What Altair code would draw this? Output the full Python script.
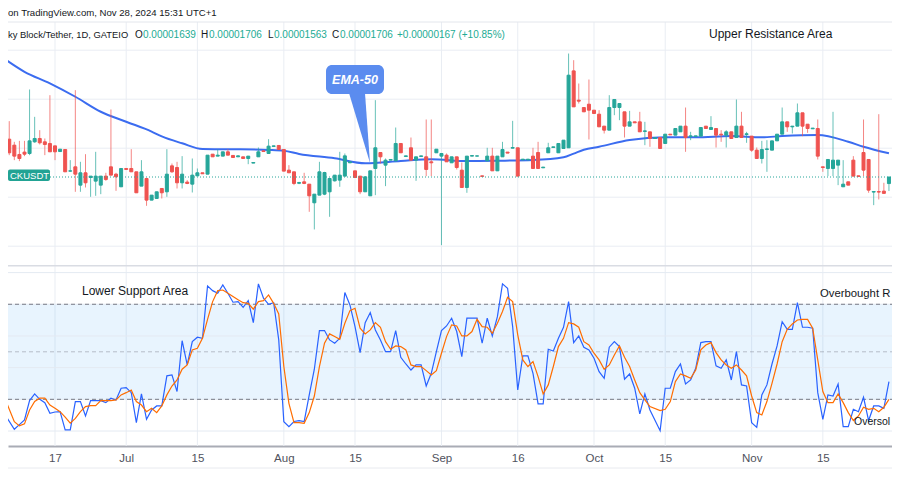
import altair as alt
import pandas as pd
from datetime import date, timedelta

# ---------------- data (prices in units of 1e-8 USDT) ----------------
START = date(2024, 6, 7)

opens = [2670, 2092, 2031, 1936, 1960, 1946, 2065, 2099, 2065, 2048,
         2024, 1966, 1987, 1766, 1810, 1623, 1749, 1701, 1664, 1623,
         1715, 1810, 1735, 1606, 1793, 1793, 1759, 1613, 1691, 1470,
         1487, 1589, 1555, 1820, 1803, 1647, 1654, 1633, 1718, 1749,
         1735, 1939, 1919, 1919, 1963, 1926, 1912, 1912, 1895, 1848,
         1912, 1973, 1946, 2018, 2028, 1987, 1776, 1759, 1642, 1657,
         1633, 1443, 1521, 1531, 1555, 1667, 1674, 1715, 1851, 1769,
         1715, 1555, 1514, 1793, 1956, 1827, 1878, 1871, 2048, 1915,
         2004, 1878, 1915, 1912, 1861, 1953, 1919, 1929, 1851, 1912,
         1776, 1599, 1919, 1919, 1718, 1871, 1919, 1769, 1912, 1960,
         2000, 2004, 1881, 1881, 1919, 1956, 1800, 1953, 2007, 1953,
         1997, 2004, 2789, 2490, 2415, 2449, 2388, 2347, 2225, 2184,
         2415, 2415, 2371, 2225, 2269, 2269, 2171, 2167, 2099, 2109,
         2048, 2143, 2133, 2167, 2225, 2120, 2120, 2123, 2225, 2191,
         2201, 2143, 2133, 2167, 2109, 2225, 2140, 2123, 1980, 1895,
         1987, 1980, 2075, 2143, 2269, 2218, 2225, 2361, 2245, 2198,
         2201, 1810, 1793, 1793, 1827, 1606, 1657, 1878, 1718, 1956,
         1885, 1552, 1558, 1562, 1639]
highs = [2711, 2276, 2065, 2075, 2075, 2599, 2320, 2184, 2099, 2541,
         2024, 1990, 1987, 1878, 2592, 1861, 1939, 1715, 1963, 1715,
         1749, 2395, 1749, 1793, 1793, 1990, 1759, 1878, 1691, 1521,
         1555, 1589, 1990, 1844, 1861, 1919, 1674, 1895, 1793, 1749,
         1929, 1939, 1990, 1963, 1990, 1926, 1926, 1912, 1919, 1854,
         2007, 1973, 2092, 2024, 2028, 1987, 1827, 1759, 1657, 1749,
         1633, 1531, 1861, 1759, 1691, 1725, 1963, 1946, 1861, 1769,
         1715, 1708, 1769, 2490, 1956, 1895, 1885, 2211, 2048, 1922,
         2109, 1912, 1922, 2293, 2293, 1990, 1946, 1946, 1912, 1912,
         1854, 1919, 1925, 1922, 1718, 2004, 2004, 1919, 2065, 1960,
         2279, 2004, 1888, 1888, 2004, 2065, 1807, 2055, 2014, 2048,
         2082, 2966, 2898, 2660, 2415, 2701, 2388, 2388, 2225, 2541,
         2497, 2456, 2371, 2381, 2269, 2371, 2269, 2167, 2112, 2109,
         2143, 2143, 2201, 2225, 2415, 2167, 2126, 2211, 2225, 2327,
         2201, 2184, 2184, 2167, 2497, 2371, 2167, 2123, 2007, 2075,
         2082, 2075, 2143, 2415, 2269, 2225, 2456, 2361, 2245, 2205,
         2293, 1810, 1885, 2371, 1878, 1878, 1657, 1919, 1718, 2293,
         1885, 1558, 2347, 1647, 1706]
lows = [1963, 1929, 1878, 1868, 1919, 1929, 2055, 2038, 1929, 1963,
        1878, 1966, 1759, 1759, 1555, 1555, 1599, 1504, 1514, 1531,
        1667, 1725, 1565, 1606, 1783, 1759, 1545, 1613, 1412, 1470,
        1487, 1487, 1504, 1749, 1589, 1589, 1633, 1548, 1718, 1739,
        1735, 1912, 1919, 1919, 1929, 1905, 1912, 1895, 1837, 1848,
        1912, 1966, 1946, 2018, 1987, 1766, 1749, 1623, 1633, 1633,
        1351, 1171, 1521, 1521, 1300, 1660, 1606, 1715, 1851, 1701,
        1531, 1555, 1514, 1521, 1844, 1613, 1878, 1871, 1953, 1915,
        1878, 1667, 1915, 1715, 1715, 1953, 1011, 1861, 1851, 1783,
        1599, 1545, 1919, 1919, 1712, 1871, 1769, 1769, 1912, 1950,
        2000, 1715, 1881, 1881, 1793, 1793, 1800, 1953, 2007, 1953,
        1997, 2004, 2422, 2456, 2371, 2089, 2354, 2218, 2150, 2184,
        2337, 2286, 2109, 2225, 2259, 2167, 2031, 2014, 2095, 1997,
        2048, 2136, 2133, 2167, 1963, 2082, 2120, 2123, 2201, 2191,
        2007, 2065, 2007, 2099, 2109, 2109, 2055, 1963, 1895, 1844,
        1759, 1980, 2075, 2143, 2167, 2150, 2225, 2123, 2157, 2198,
        1885, 1759, 1715, 1715, 1623, 1606, 1623, 1715, 1712, 1715,
        1545, 1419, 1477, 1539, 1563]
closes = [2099, 1953, 1919, 1895, 1939, 2075, 2099, 2055, 2038, 1963,
          1963, 1990, 1759, 1769, 1735, 1749, 1647, 1715, 1715, 1715,
          1681, 1725, 1708, 1793, 1783, 1759, 1545, 1759, 1470, 1521,
          1555, 1545, 1735, 1759, 1647, 1735, 1640, 1725, 1749, 1739,
          1929, 1912, 1929, 1963, 1929, 1905, 1922, 1895, 1919, 1854,
          1963, 1966, 2021, 2024, 1987, 1766, 1749, 1640, 1650, 1640,
          1514, 1531, 1759, 1752, 1691, 1725, 1725, 1922, 1861, 1701,
          1555, 1708, 1769, 2004, 1912, 1878, 1885, 2048, 1953, 1922,
          1878, 1912, 1922, 1783, 1851, 1990, 1946, 1861, 1912, 1803,
          1599, 1919, 1925, 1922, 1712, 1919, 1769, 1919, 1987, 1950,
          2007, 1715, 1888, 1888, 1793, 1793, 1807, 2004, 2014, 2048,
          2082, 2745, 2422, 2480, 2371, 2388, 2354, 2218, 2184, 2415,
          2497, 2456, 2225, 2269, 2259, 2167, 2177, 2099, 2106, 1997,
          2143, 2136, 2201, 2225, 2109, 2126, 2126, 2211, 2201, 2211,
          2133, 2136, 2167, 2099, 2225, 2109, 2147, 1980, 1895, 1987,
          1993, 2075, 2143, 2269, 2218, 2225, 2361, 2225, 2201, 2205,
          1919, 1803, 1885, 1878, 1878, 1633, 1623, 1715, 1712, 1776,
          1572, 1558, 1552, 1539, 1706]

# EMA-50 line (day offset from START, value)
ema_days = [-1, 4, 9, 14, 19, 24, 29, 31, 35, 39, 45, 52, 55, 58, 65, 71,
            78, 84, 91, 97, 104, 110, 112, 114, 117, 123, 130, 136, 143,
            149, 153, 160, 166, 169, 174]
ema_values = [2951, 2780, 2662, 2525, 2372, 2270, 2170, 2120, 2050, 1992,
              1989, 1982, 1974, 1941, 1897, 1846, 1869, 1887, 1869, 1872,
              1879, 1907, 1945, 1985, 2015, 2084, 2111, 2111, 2124, 2111,
              2124, 2135, 2066, 2015, 1948]

# Stochastic %K (blue) and %D (orange)
stoch_days = [-1, 0] + list(range(2, 128)) + list(range(129, 175))
stoch_k = [24, 11.2, 1.1, 4, 7, 19.2, 23.4, 20, 17.9, 11.2,
           12, 12.2, 0.7, 0.7, 18.6, 18.6, 9.5, 19.2, 19.2, 19.2,
           17.9, 20.7, 19.6, 27, 27.4, 24.2, 5.3, 23.4, 7.4, 13.3,
           15.8, 15.8, 34.8, 35.4, 24.9, 57, 41.7, 56.4, 59.2, 58.5,
           91.6, 88.6, 87, 92.2, 87, 81.3, 81.7, 78.1, 82.3, 68.4,
           92.9, 83.8, 80, 81, 57.5, 5.9, 2.8, 6.0, 6.6, 5.9,
           22.8, 39, 63.4, 63.4, 57.5, 55.4, 58.5, 87.4, 79.6, 65.9,
           49.5, 68.4, 74.8, 63.8, 57.5, 50.1, 50.1, 63.4, 46.5, 42.3,
           38.5, 41.7, 41.7, 28.4, 36.4, 50.1, 63.4, 66.3, 71.2, 62.8,
           47, 71.2, 71.2, 71.2, 55.4, 71.2, 60, 72.2, 92.9, 90.1,
           65.9, 25.9, 47.4, 47.4, 36.4, 17.1, 17.1, 51.6, 50.5, 58.5,
           65.5, 81.7, 55.8, 60, 52.9, 51.2, 45.9, 37.5, 33.3, 52.9,
           56.4, 53.3, 32.7, 36, 27, 10.8, 23.4, 13.3, 0.2, 27,
           27, 37.5, 42.3, 29.7, 32.2, 39.6, 55.8, 56.4, 56.4, 41.1,
           39.6, 44.9, 32.2, 50.1, 29.1, 28.4, 5.3, 2.3, 22.8, 29.1,
           42.3, 53.7, 69, 64.2, 64.2, 81, 65.5, 65.5, 64.9, 24.2,
           7.4, 22.8, 22.1, 29.7, 2.8, 2.8, 13.7, 12.2, 21.3, 6.6,
           15.8, 15.8, 14.3, 31.2]
stoch_d = [34.8, 21.7, 5.9, 3.2, 4.5, 13.3, 18.6, 20.7, 20.7, 16.4,
           14.3, 12.2, 8.7, 4.9, 8, 12.2, 15.4, 16, 16, 19.2,
           19.2, 19.2, 19.6, 22.8, 24.2, 25.9, 18.6, 16.4, 12.2, 14.3,
           11.6, 15.8, 22.8, 28.4, 32.2, 39, 41.7, 51.2, 52.2, 58.5,
           70.5, 81.7, 88.6, 89, 87, 84.9, 82.8, 81, 80.6, 76.9,
           81.7, 82.3, 85.9, 80.6, 73.9, 40.7, 17.5, 5.3, 5.3, 4.9,
           11.6, 22.1, 40.7, 55.4, 61.3, 59.6, 57.9, 68, 76, 77.5,
           64.9, 61.3, 63.8, 68.4, 65.5, 56.4, 51.6, 53.7, 53.3, 51.2,
           41.7, 40.7, 40.7, 38.1, 35.4, 38.1, 49.1, 59.6, 67, 66.3,
           60, 60, 62.8, 70.5, 65.9, 65.5, 61.7, 68, 75.4, 84.4,
           81.7, 60.7, 44.9, 40.7, 43.8, 34.3, 23.4, 29.1, 40.7, 53.3,
           58.5, 68.4, 67.6, 65.5, 56.4, 54.3, 49.1, 44.9, 39, 41.7,
           48, 53.7, 46.5, 40.7, 32.2, 24.2, 19.6, 15.4, 12.9, 13.7,
           18.6, 31.2, 36, 34.8, 33.3, 38.5, 51.2, 54.3, 55.8, 49.5,
           44.9, 41.7, 39.6, 41.7, 38.5, 34.8, 22.1, 11.6, 10.1, 18.6,
           30.1, 42.3, 56.4, 64.2, 67.6, 70.1, 70.5, 70.5, 64.9, 44.9,
           24.9, 17.9, 17.9, 23.4, 17.9, 11.6, 6.6, 9.5, 15, 13.7,
           14.3, 12.2, 15, 20]

tick_dates = ["2024-06-17", "2024-07-01", "2024-07-15", "2024-08-01",
              "2024-08-15", "2024-09-01", "2024-09-16", "2024-10-01",
              "2024-10-15", "2024-11-01", "2024-11-15"]
tick_labels = ["17", "Jul", "15", "Aug", "15", "Sep", "16", "Oct", "15",
               "Nov", "15"]

price_grid = [1000, 1500, 2000, 2500, 3000]
stoch_grid = [0, 20, 40, 60, 80, 100]

# ---------------- helpers ----------------
W, H = 884, 438
GREEN, RED = "#26a69a", "#ef5350"
FONT = "Liberation Sans"


def day(i):
    return (START + timedelta(days=i)).isoformat() + "T00:00:00Z"


def dtobj(s, h=0, m=0):
    y, mo, d = (int(p) for p in s.split("-"))
    return alt.DateTime(year=y, month=mo, date=d, hours=h, minutes=m, utc=True)


expr = "''"
for t, lab in reversed(list(zip(tick_dates, tick_labels))):
    expr = f"(utcFormat(datum.value, '%Y-%m-%d') == '{t}' ? '{lab}' : {expr})"

XSCALE = alt.Scale(type="utc", padding=0, nice=False,
                   domain=[dtobj("2024-06-07", 18, 10), dtobj("2024-11-28", 14, 24)])
XAXIS = alt.Axis(values=[dtobj(t) for t in tick_dates], labelExpr=expr,
                 title=None, grid=False, ticks=False, domainColor="#a9acb5",
                 domainWidth=2, labelColor="#4f525d", labelFontSize=11.5,
                 labelFont=FONT, labelPadding=6, labelFlush=False,
                 labelOverlap=False)
X = alt.X("date:T", scale=XSCALE, axis=XAXIS)

PRICE = alt.Scale(domain=[1000, 3000], range=[238.2, 42.2], zero=False, nice=False, padding=0)
STOCH = alt.Scale(domain=[0, 100], range=[423.0, 264.6], zero=False, nice=False, padding=0)

one = pd.DataFrame({"a": [0]})


def text(t, x, y, size=12, color="#131722", align="left", **kw):
    return alt.Chart(pd.DataFrame({"t": [t]})).mark_text(
        align=align, baseline="middle", font=FONT, fontSize=size, color=color, **kw
    ).encode(x=alt.value(x), y=alt.value(y), text="t:N")


# ---------------- data frames ----------------
candles = pd.DataFrame({
    "date": [day(i) for i in range(len(opens))],
    "open": opens, "high": highs, "low": lows, "close": closes,
})
candles["dir"] = ["up" if c >= o else "down" for o, c in zip(opens, closes)]
ema = pd.DataFrame({"date": [day(i) for i in ema_days], "v": ema_values})
stoch = pd.DataFrame({"date": [day(i) for i in stoch_days], "k": stoch_k, "d": stoch_d})

DIRCOL = alt.Scale(domain=["up", "down"], range=[GREEN, RED])

# ---------------- layers ----------------
vgrid = alt.Chart(pd.DataFrame({"date": [t + "T00:00:00Z" for t in tick_dates]})).mark_rule(
    color="#e9edf3", strokeWidth=1).encode(x=X, y=alt.value(14), y2=alt.value(H))

top_line = alt.Chart(one).mark_rule(color="#e3e6ec", strokeWidth=1).encode(
    x=alt.value(0), x2=alt.value(W), y=alt.value(14))

pgrid = alt.Chart(pd.DataFrame({"v": price_grid})).mark_rule(
    color="#e9edf3", strokeWidth=1).encode(
    x=alt.value(0), x2=alt.value(W), y=alt.Y("v:Q", scale=PRICE, axis=None))

band = alt.Chart(pd.DataFrame({"hi": [80], "lo": [20]})).mark_rect(
    color="#2196f3", opacity=0.1).encode(
    x=alt.value(0), x2=alt.value(W),
    y=alt.Y("hi:Q", scale=STOCH, axis=None), y2="lo:Q")

sgrid = alt.Chart(pd.DataFrame({"v": stoch_grid})).mark_rule(
    color="#e4eaf2", strokeWidth=1).encode(
    x=alt.value(0), x2=alt.value(W), y=alt.Y("v:Q", scale=STOCH, axis=None))

levels = alt.Chart(pd.DataFrame({"v": [80, 20]})).mark_rule(
    color="#787b86", strokeDash=[4, 3], strokeWidth=1).encode(
    x=alt.value(0), x2=alt.value(W), y=alt.Y("v:Q", scale=STOCH, axis=None))

mid = alt.Chart(pd.DataFrame({"v": [50]})).mark_rule(
    color="#787b86", opacity=0.45, strokeDash=[4, 3], strokeWidth=1).encode(
    x=alt.value(0), x2=alt.value(W), y=alt.Y("v:Q", scale=STOCH, axis=None))

separator = alt.Chart(one).mark_rule(color="#d9dce3", strokeWidth=1.5).encode(
    x=alt.value(0), x2=alt.value(W), y=alt.value(257.7))

bottom_line = alt.Chart(one).mark_rule(color="#e8eaef", strokeWidth=1).encode(
    x=alt.value(0), x2=alt.value(W), y=alt.value(460))

ema_line = alt.Chart(ema).mark_line(color="#3b6cf0", strokeWidth=2,
                                    interpolate="monotone").encode(
    x=X, y=alt.Y("v:Q", scale=PRICE, axis=None))

wicks = alt.Chart(candles).mark_rule(strokeWidth=1, opacity=0.7).encode(
    x=X, y=alt.Y("low:Q", scale=PRICE, axis=None), y2="high:Q",
    color=alt.Color("dir:N", scale=DIRCOL, legend=None))

bodies = alt.Chart(candles).mark_bar(size=3, strokeWidth=1).encode(
    x=X, y=alt.Y("open:Q", scale=PRICE, axis=None), y2="close:Q",
    color=alt.Color("dir:N", scale=DIRCOL, legend=None),
    stroke=alt.Stroke("dir:N", scale=DIRCOL, legend=None))

last_line = alt.Chart(pd.DataFrame({"v": [closes[-1]]})).mark_rule(
    color=GREEN, strokeDash=[1, 2], strokeWidth=1).encode(
    x=alt.value(42), x2=alt.value(W), y=alt.Y("v:Q", scale=PRICE, axis=None))

label_box = alt.Chart(one).mark_rect(color="#22a394", cornerRadius=2).encode(
    x=alt.value(0), x2=alt.value(42), y=alt.value(161.5), y2=alt.value(173))
label_txt = text("CKUSDT", 2, 167.5, size=9.5, color="white")

k_line = alt.Chart(stoch).mark_line(color="#2962ff", strokeWidth=1.2).encode(
    x=X, y=alt.Y("k:Q", scale=STOCH, axis=None))
d_line = alt.Chart(stoch).mark_line(color="#ff6d00", strokeWidth=1.2).encode(
    x=X, y=alt.Y("d:Q", scale=STOCH, axis=None))

callout_box = alt.Chart(one).mark_rect(color="#5b8cef", cornerRadius=6).encode(
    x=alt.value(318), x2=alt.value(376), y=alt.value(57), y2=alt.value(86))
callout_tail = alt.Chart(one).mark_point(
    shape="M-0.3,-1L0.157,-1L0.3,1Z", filled=True, size=4900, color="#5b8cef",
    opacity=1, strokeWidth=0).encode(x=alt.value(351.5), y=alt.value(120))
callout_txt = text("EMA-50", 347, 71.5, size=12.5, color="white", align="center",
                   fontStyle="italic", fontWeight="bold")

TEAL = "#22ab94"
hdr = [
    text("on TradingView.com, Nov 28, 2024 15:31 UTC+1", 0, 5, size=9.6),
    text("ky Block/Tether, 1D, GATEIO", 0, 27, size=9.4),
    text("O", 127, 27, size=10),
    text(f"{opens[-1] / 1e8:.8f}", 135, 27, size=10, color=TEAL),
    text("H", 193, 27, size=10),
    text(f"{highs[-1] / 1e8:.8f}", 201, 27, size=10, color=TEAL),
    text("L", 260, 27, size=10),
    text(f"{lows[-1] / 1e8:.8f}", 266, 27, size=10, color=TEAL),
    text("C", 324, 27, size=10),
    text(f"{closes[-1] / 1e8:.8f}", 332, 27, size=10, color=TEAL),
    text(f"+{(closes[-1] - closes[-2]) / 1e8:.8f} "
         f"(+{(closes[-1] - closes[-2]) / closes[-2] * 100:.2f}%)", 389, 27, size=10, color=TEAL),
]

notes = [
    text("Upper Resistance Area", 701, 26, size=12),
    text("Lower Support Area", 74, 283, size=12),
    text("Overbought R", 812, 286, size=11.3),
    text("Oversol", 846, 414, size=10.5),
]

layers = [vgrid, top_line, pgrid, band, sgrid, levels, mid, separator, bottom_line,
          ema_line, wicks, bodies, last_line, label_box, label_txt,
          k_line, d_line, callout_box, callout_tail, callout_txt] + hdr + notes

chart = alt.layer(*layers).resolve_scale(y="independent").properties(
    width=W, height=H,
    autosize=alt.AutoSizeParams(type="none"),
    padding={"left": 0, "right": 0, "top": 0, "bottom": 40},
    background="white",
).configure_view(strokeWidth=0)

chart.save("out.html", embed_options={"renderer": "svg", "actions": False})
